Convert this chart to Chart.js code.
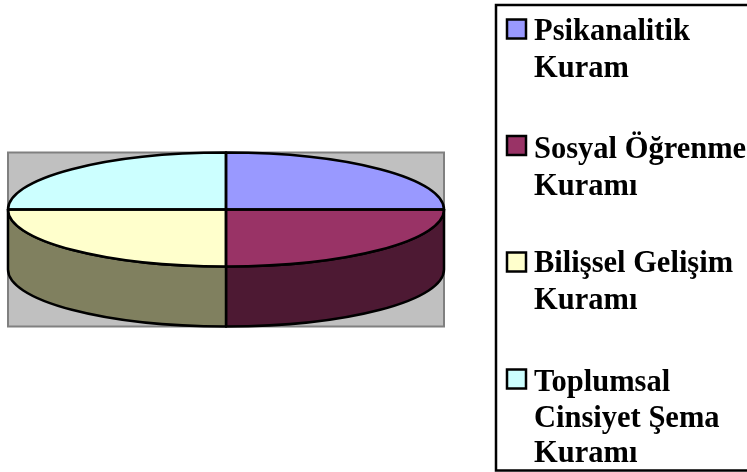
<!DOCTYPE html>
<html><head><meta charset="utf-8">
<style>html,body{margin:0;padding:0;background:#fff}#w{width:747px;height:472px;position:relative}</style>
<script src="https://cdn.jsdelivr.net/npm/chart.js@4/dist/chart.umd.min.js"></script>
</head><body><div id="w"><canvas id="c" width="747" height="472"></canvas></div>
<script>
const categories = ['Psikanalitik Kuram','Sosyal Öğrenme Kuramı','Bilişsel Gelişim Kuramı','Toplumsal Cinsiyet Şema Kuramı'];
const legendLines = [['Psikanalitik','Kuram'],['Sosyal Öğrenme','Kuramı'],['Bilişsel Gelişim','Kuramı'],['Toplumsal','Cinsiyet Şema','Kuramı']];
const values = [25,25,25,25];
const topColors = ['#9999FF','#993366','#FFFFCC','#CCFFFF'];
const sideColors = ['#4D4D80','#4D1933','#80805F','#668080'];

const CY = 209.5, RY = 57, DEPTH = 60;
const LEGEND_BASELINES = [[40,77],[158,195],[272,309],[391,427,462]];
const SWATCH_TOPS = [19.5,136,252.5,369.5];

const pie3d = {
  id:'pie3d',
  beforeDatasetsDraw(chart){
    const ctx = chart.ctx, arcs = chart.getDatasetMeta(0).data, c = arcs[0];
    const rx = c.outerRadius;
    ctx.save();
    ctx.fillStyle = '#C0C0C0'; ctx.strokeStyle = '#808080'; ctx.lineWidth = 2;
    ctx.beginPath(); ctx.rect(c.x-rx, CY-RY, rx*2, RY*2+DEPTH); ctx.fill(); ctx.stroke();
    ctx.strokeStyle = '#000'; ctx.lineJoin='round'; ctx.lineWidth = 2.5;
    arcs.forEach((a,i)=>{
      const s = Math.max(a.startAngle,0), e = Math.min(a.endAngle,Math.PI);
      if (e <= s) return;
      ctx.beginPath();
      ctx.ellipse(a.x,CY,rx,RY,0,s,e);
      ctx.ellipse(a.x,CY+DEPTH,rx,RY,0,e,s,true);
      ctx.closePath();
      ctx.fillStyle = sideColors[i];
      ctx.fill(); ctx.stroke();
    });
    ctx.restore();
  },
  beforeDatasetDraw(chart){
    const ctx = chart.ctx, c = chart.getDatasetMeta(0).data[0];
    ctx.save();
    ctx.translate(c.x,CY); ctx.scale(1,RY/c.outerRadius); ctx.translate(-c.x,-c.y);
  },
  afterDatasetDraw(chart){ chart.ctx.restore(); },
  afterDatasetsDraw(chart){
    const ctx = chart.ctx, arcs = chart.getDatasetMeta(0).data;
    ctx.save();
    ctx.strokeStyle='#000'; ctx.lineWidth=2.5; ctx.lineJoin='round';
    arcs.forEach(a=>{
      ctx.beginPath();
      ctx.moveTo(a.x,CY);
      ctx.ellipse(a.x,CY,a.outerRadius,RY,0,a.startAngle,a.endAngle);
      ctx.closePath();
      ctx.stroke();
    });
    ctx.restore();
  },
  afterDraw(chart){
    const ctx = chart.ctx;
    ctx.save();
    ctx.fillStyle='#fff'; ctx.strokeStyle='#000'; ctx.lineWidth=2.5;
    ctx.beginPath(); ctx.rect(496,5,260,465.5); ctx.fill(); ctx.stroke();
    ctx.textBaseline='alphabetic'; ctx.textAlign='left';
    ctx.font='bold 30.5px "Liberation Serif"';
    legendLines.forEach((lines,i)=>{
      ctx.fillStyle=topColors[i]; ctx.lineWidth=2.5;
      ctx.beginPath(); ctx.rect(507,SWATCH_TOPS[i],19,19); ctx.fill(); ctx.stroke();
      ctx.fillStyle='#000';
      lines.forEach((t,j)=>ctx.fillText(t,534,LEGEND_BASELINES[i][j]));
    });
    ctx.restore();
  }
};

new Chart(document.getElementById('c'),{
  type:'pie',
  data:{labels:categories,datasets:[{data:values,backgroundColor:topColors,borderWidth:0}]},
  options:{
    responsive:false,animation:false,
    layout:{padding:{left:8,right:303,top:18,bottom:18}},
    plugins:{legend:{display:false},tooltip:{enabled:false}}
  },
  plugins:[pie3d]
});
</script></body></html>
